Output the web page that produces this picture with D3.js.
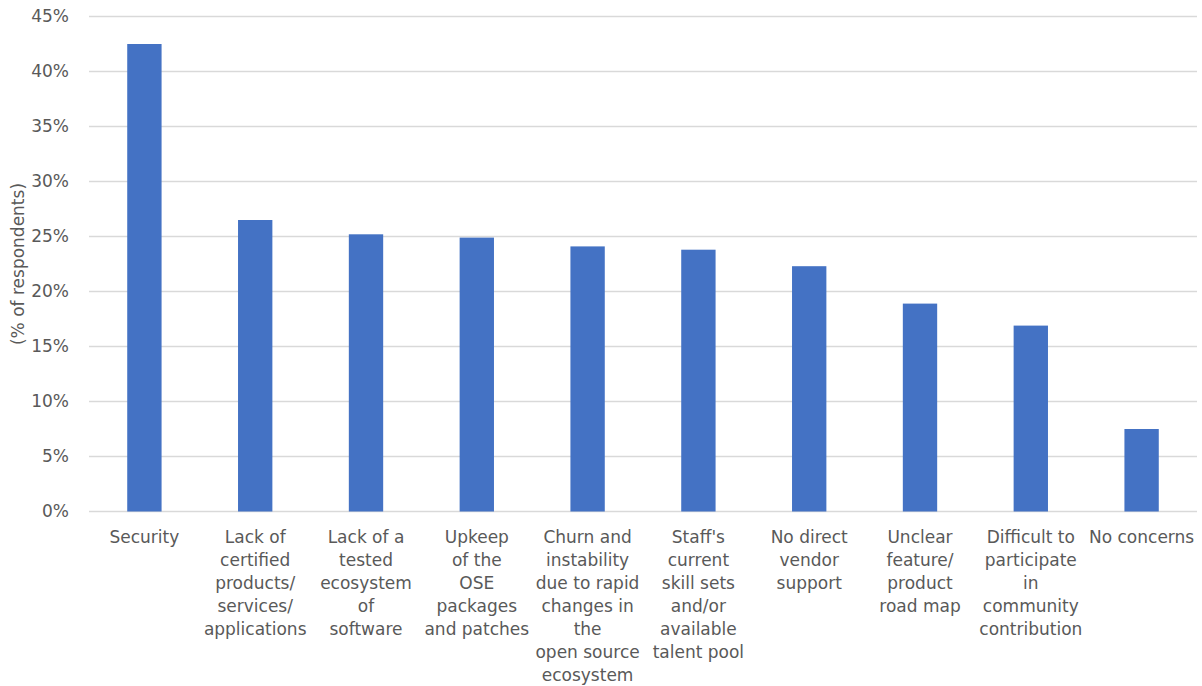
<!DOCTYPE html>
<html>
<head>
<meta charset="utf-8">
<script src="https://cdn.jsdelivr.net/npm/d3@7"></script>
<style>
  body { margin: 0; background: #fff; }
  text { font-family: "DejaVu Sans", sans-serif; fill: #595959; }
</style>
</head>
<body>
<div id="vis"></div>
<script>
// categories, one array of lines per label
var categories = [
  ["Security"],
  ["Lack of", "certified", "products/", "services/", "applications"],
  ["Lack of a", "tested", "ecosystem", "of", "software"],
  ["Upkeep", "of the", "OSE", "packages", "and patches"],
  ["Churn and", "instability", "due to rapid", "changes in", "the", "open source", "ecosystem"],
  ["Staff's", "current", "skill sets", "and/or", "available", "talent pool"],
  ["No direct", "vendor", "support"],
  ["Unclear", "feature/", "product", "road map"],
  ["Difficult to", "participate", "in", "community", "contribution"],
  ["No concerns"]
]
var values = [42.5, 26.5, 25.2, 24.9, 24.1, 23.8, 22.3, 18.9, 16.9, 7.5]
var yTicks = [0, 5, 10, 15, 20, 25, 30, 35, 40, 45]

var w = 1202;
var h = 686;
var plotLeft = 89, plotRight = 1197, plotTop = 16.5, plotBottom = 511.5;

var svg = d3.select("#vis")
.append("svg")
.attr("width", w)
.attr("height", h);

var x = d3.scaleBand()
.domain(d3.range(categories.length))
.range([plotLeft, plotRight])
.paddingInner(0.69)
.paddingOuter(0.345)

var y = d3.scaleLinear()
.domain([0, 45])
.range([plotBottom, plotTop])

//gridlines
svg.append("g")
.selectAll("line")
.data(yTicks)
.enter()
.append("line")
.attr("x1", plotLeft)
.attr("x2", plotRight)
.attr("y1", d => y(d))
.attr("y2", d => y(d))
.attr("stroke", "#d9d9d9")
.attr("stroke-width", 1.3)

//y tick labels
svg.append("g")
.selectAll("text")
.data(yTicks)
.enter()
.append("text")
.attr("x", 69)
.attr("y", d => y(d))
.attr("dy", "0.35em")
.attr("text-anchor", "end")
.attr("font-size", 17)
.text(d => d + "%")

//bars
svg.append("g")
.selectAll("rect")
.data(values)
.enter()
.append("rect")
.attr("x", (d, i) => x(i))
.attr("y", d => y(d))
.attr("width", x.bandwidth())
.attr("height", d => y(0) - y(d))
.attr("fill", "#4472c4")

//category labels
var labels = svg.append("g")
.selectAll("text")
.data(categories)
.enter()
.append("text")
.attr("text-anchor", "middle")
.attr("font-size", 17)

labels.selectAll("tspan")
.data((d, i) => d.map(line => ({line: line, i: i})))
.enter()
.append("tspan")
.attr("x", d => x(d.i) + x.bandwidth() / 2)
.attr("y", (d, j) => 543 + j * 23)
.text(d => d.line)

//axis title
svg.append("text")
.attr("transform", `translate(24, ${(plotTop + plotBottom) / 2}) rotate(-90)`)
.attr("text-anchor", "middle")
.attr("font-size", 17)
.text("(% of respondents)")
</script>
</body>
</html>
